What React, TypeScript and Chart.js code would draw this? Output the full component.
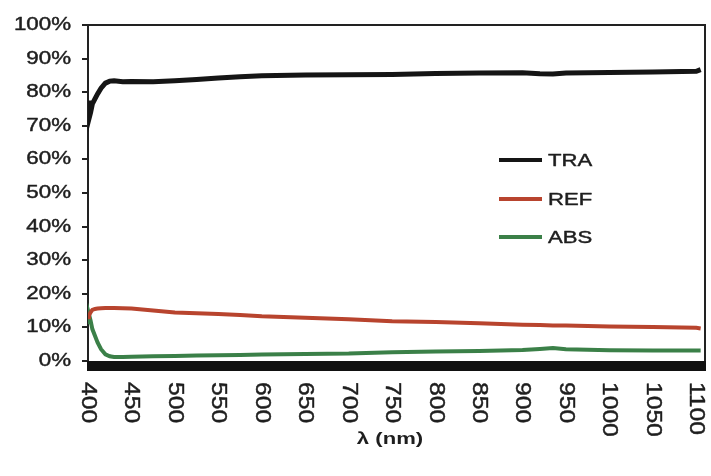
import React, { useEffect, useRef } from "react";
import { Chart, registerables } from "chart.js";

Chart.register(...registerables);

const wavelengths = [400, 401, 403, 405, 408, 411, 415, 420, 425, 430, 440, 450, 475, 500, 525, 550, 575, 600, 650, 700, 750, 800, 850, 900, 920, 935, 950, 1000, 1050, 1100, 1105];
const traValues = [77.5, 72, 74, 76.5, 78, 79.5, 81.2, 82.7, 83.3, 83.4, 83.1, 83.2, 83.1, 83.4, 83.8, 84.2, 84.6, 84.9, 85.1, 85.2, 85.3, 85.6, 85.7, 85.8, 85.5, 85.4, 85.7, 85.9, 86.0, 86.2, 86.7];
const refValues = [13.0, 13.5, 14.5, 15.2, 15.5, 15.6, 15.7, 15.8, 15.8, 15.8, 15.7, 15.6, 15.0, 14.4, 14.2, 14.0, 13.7, 13.3, 12.9, 12.4, 11.8, 11.6, 11.2, 10.8, 10.7, 10.6, 10.6, 10.3, 10.1, 9.9, 9.7];
const absValues = [11.5, 14.0, 12.0, 9.5, 7.5, 5.5, 3.5, 2.0, 1.4, 1.2, 1.2, 1.3, 1.4, 1.5, 1.6, 1.7, 1.8, 1.9, 2.1, 2.2, 2.6, 2.8, 3.0, 3.3, 3.6, 3.9, 3.5, 3.2, 3.1, 3.1, 3.1];
const xTickValues = [400, 450, 500, 550, 600, 650, 700, 750, 800, 850, 900, 950, 1000, 1050, 1100];
const yTickValues = [0, 10, 20, 30, 40, 50, 60, 70, 80, 90, 100];
const seriesNames = ["TRA", "REF", "ABS"];
const seriesColors = ["#151515", "#b8442e", "#3b8048"];
const axisTitle = "λ (nm)";

const FONT = '"Liberation Sans", Arial, sans-serif';
const TEXT = "#1e1e1e";

const pts = (vals: number[]) => wavelengths.map((w, i) => ({ x: w, y: vals[i] }));

function heavyText(ctx: any, s: string, x: number, y: number) {
  ctx.fillText(s, x, y);
  ctx.strokeText(s, x, y);
}

const decor = {
  id: "decor",
  afterDraw(chart: any) {
    const ctx = chart.ctx;
    const { left, right, top, bottom } = chart.chartArea;
    const xs = chart.scales.x;
    const ys = chart.scales.y;
    ctx.save();
    // top & right borders
    ctx.strokeStyle = "#222";
    ctx.lineWidth = 2;
    ctx.beginPath();
    ctx.moveTo(left, top);
    ctx.lineTo(right, top);
    ctx.lineTo(right, bottom);
    ctx.stroke();
    // bottom thick axis bar
    ctx.fillStyle = "#111";
    ctx.fillRect(left - 1, bottom, right - left + 2, 10);
    // text styling
    ctx.fillStyle = TEXT;
    ctx.strokeStyle = TEXT;
    ctx.lineWidth = 0.45;
    ctx.lineJoin = "round";
    // y tick labels (horizontally widened)
    ctx.font = "18px " + FONT;
    ctx.textAlign = "right";
    ctx.textBaseline = "middle";
    yTickValues.forEach((v) => {
      const y = ys.getPixelForValue(v);
      ctx.save();
      ctx.translate(71, y);
      ctx.scale(1.24, 1);
      heavyText(ctx, v + "%", 0, 0);
      ctx.restore();
    });
    // x tick labels (rotated clockwise)
    ctx.font = "22px " + FONT;
    ctx.textAlign = "left";
    ctx.textBaseline = "middle";
    xTickValues.forEach((v) => {
      const x = xs.getPixelForValue(v);
      ctx.save();
      ctx.translate(x, bottom + 21);
      ctx.rotate(Math.PI / 2);
      ctx.scale(1.12, 1);
      heavyText(ctx, String(v), 0, 0);
      ctx.restore();
    });
    // axis title
    ctx.save();
    ctx.translate(390, 439);
    ctx.scale(1.3, 1);
    ctx.font = "bold 17px " + FONT;
    ctx.textAlign = "center";
    ctx.fillText(axisTitle, 0, 0);
    ctx.restore();
    // legend
    const ly = [160, 199, 237];
    seriesNames.forEach((name, i) => {
      ctx.save();
      ctx.strokeStyle = seriesColors[i];
      ctx.lineWidth = 4;
      ctx.beginPath();
      ctx.moveTo(499, ly[i]);
      ctx.lineTo(542, ly[i]);
      ctx.stroke();
      ctx.restore();
      ctx.save();
      ctx.translate(548, ly[i]);
      ctx.scale(1.3, 1);
      ctx.font = "17px " + FONT;
      ctx.textAlign = "left";
      ctx.textBaseline = "middle";
      heavyText(ctx, name, 0, 1);
      ctx.restore();
    });
    ctx.restore();
  },
};

export default function App() {
  const ref = useRef<HTMLCanvasElement>(null);
  useEffect(() => {
    document.body.style.margin = "0";
    const chart = new Chart(ref.current!, {
      type: "line",
      data: {
        datasets: [
          { label: seriesNames[0], data: pts(traValues), borderColor: seriesColors[0], borderWidth: 5 },
          { label: seriesNames[1], data: pts(refValues), borderColor: seriesColors[1], borderWidth: 4 },
          { label: seriesNames[2], data: pts(absValues), borderColor: seriesColors[2], borderWidth: 4 },
        ],
      },
      options: {
        animation: false,
        responsive: false,
        layout: { padding: { top: 25, right: 6, left: 0, bottom: 0 } },
        elements: { point: { radius: 0 }, line: { tension: 0 } },
        plugins: { legend: { display: false }, tooltip: { enabled: false } },
        scales: {
          x: {
            type: "linear",
            min: 400,
            max: 1110,
            grid: { display: false },
            border: { display: false },
            ticks: { display: false },
            afterFit: (s: any) => { s.height = 115; },
          },
          y: {
            min: 0,
            max: 100,
            ticks: {
              stepSize: 10,
              padding: 10,
              color: "rgba(0,0,0,0)",
              font: { family: "Liberation Sans", size: 18 },
              callback: (v: any) => v + "%",
            },
            grid: { drawOnChartArea: false, drawTicks: true, tickLength: 6, color: "#222", lineWidth: 2 },
            border: { display: true, color: "#222", width: 2 },
            afterFit: (s: any) => { s.width = 88; },
          },
        },
      },
      plugins: [decor],
    });
    return () => chart.destroy();
  }, []);
  return (
    <div style={{ width: 711, height: 476 }}>
      <canvas ref={ref} width={711} height={476} />
    </div>
  );
}
